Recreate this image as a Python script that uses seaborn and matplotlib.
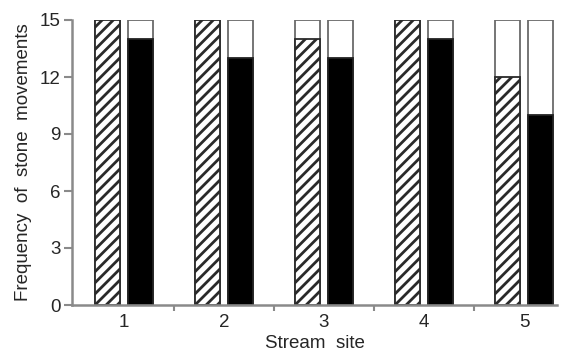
import matplotlib
matplotlib.use("Agg")
import matplotlib.pyplot as plt
import seaborn as sns
import pandas as pd
from matplotlib.ticker import FixedLocator

sites = ["1", "2", "3", "4", "5"]
total_trials = [15, 15, 15, 15, 15]
moved_hatched = [15, 15, 14, 15, 12]
moved_black = [14, 13, 13, 14, 10]
y_ticks = [0, 3, 6, 9, 12, 15]

sns.set_style("white")
plt.rcParams["font.family"] = ["Liberation Sans", "DejaVu Sans"]
plt.rcParams["hatch.linewidth"] = 2.0

totals = pd.DataFrame({
    "site": sites * 2,
    "kind": ["A"] * 5 + ["B"] * 5,
    "value": total_trials + total_trials,
})
moved = pd.DataFrame({
    "site": sites * 2,
    "kind": ["A"] * 5 + ["B"] * 5,
    "value": moved_hatched + moved_black,
})

fig = plt.figure(figsize=(5.61, 3.61), dpi=100)
ax = fig.add_axes([72 / 561, 1 - 305 / 361, (557 - 72) / 561, (305 - 20) / 361])

common = dict(x="site", y="value", hue="kind", order=sites, hue_order=["A", "B"],
              dodge=True, width=0.67, gap=0.25, errorbar=None, legend=False,
              edgecolor="#6a6a6a", linewidth=1.3, ax=ax)

sns.barplot(data=totals, palette={"A": "white", "B": "white"}, **common)
n_white = len(ax.patches)
sns.barplot(data=moved, palette={"A": "white", "B": "black"}, **common)

for p in ax.patches[n_white:]:
    if p.get_facecolor()[0] > 0.5:  # white-filled series gets the diagonal hatch
        p.set_hatch("///")
        p.set_edgecolor("#2a2a2a")
    else:
        p.set_edgecolor("#222222")

ax.set_ylim(0, 15)
ax.set_xlim(-0.52, 4.33)
ax.set_yticks(y_ticks)
ax.xaxis.set_minor_locator(FixedLocator([0.5, 1.5, 2.5, 3.5]))

for side in ["top", "right"]:
    ax.spines[side].set_visible(False)
for side in ["left", "bottom"]:
    ax.spines[side].set_color("#8a8a8a")
    ax.spines[side].set_linewidth(1.8)

ax.tick_params(axis="y", which="major", left=True, length=6, width=1.5,
               color="#8a8a8a", labelsize=13.5, pad=2)
ax.tick_params(axis="x", which="major", bottom=False, labelsize=13.5, pad=3)
ax.tick_params(axis="x", which="minor", bottom=True, length=4, width=1.5,
               color="#8a8a8a")

ax.set_xlabel("Stream  site", fontsize=13.5, labelpad=3)
ax.set_ylabel("Frequency  of  stone  movements", fontsize=13.5, labelpad=6)

fig.savefig("out.png", dpi=100)
